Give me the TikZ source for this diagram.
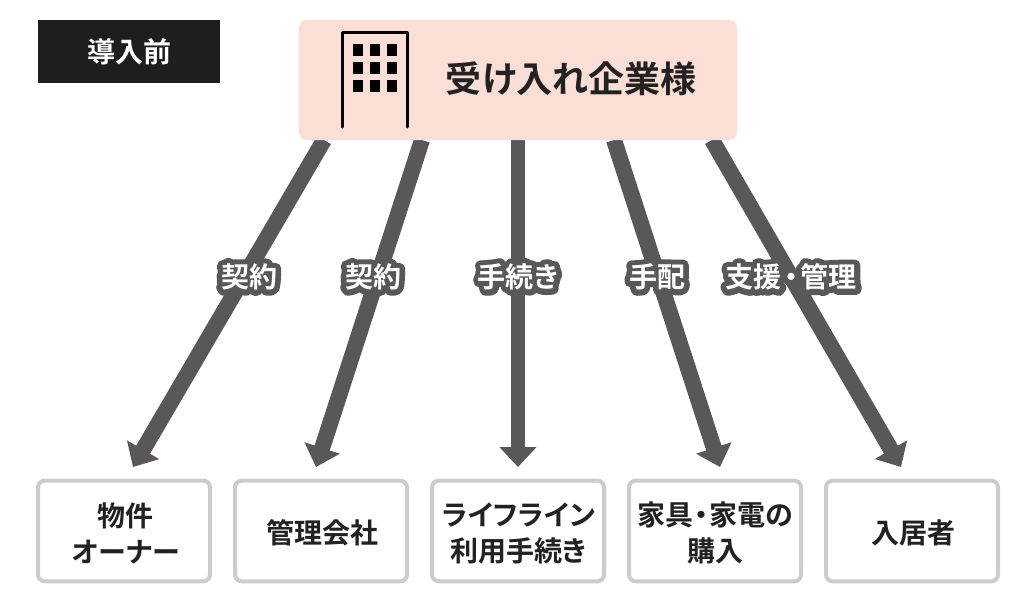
\documentclass[tikz,border=0pt]{standalone}
\usepackage{fontspec}
\usetikzlibrary{arrows.meta}
\newfontfamily\jp{Noto Sans CJK JP Bold}[RawFeature=+palt]
\newfontfamily\jphalo{Noto Sans CJK JP Bold}[RawFeature=+palt,FakeBold=40]
\definecolor{ink}{HTML}{222222}
\definecolor{shaft}{HTML}{595757}
\definecolor{pinkbg}{HTML}{FBDED6}
\definecolor{boxline}{HTML}{CCCCCC}
\definecolor{tagbg}{HTML}{1E1E1E}
\tikzset{x=0.75pt,y=-0.75pt,
 target/.style={draw=boxline,line width=3pt,fill=white,rounded corners=5pt,minimum width=129pt,minimum height=75.5pt,inner sep=0pt},
 targettext/.style={inner sep=0pt,align=center,text=ink,font=\jp\fontsize{21pt}{27pt}\selectfont},
 flow/.style={draw=shaft,line width=11pt,-{Triangle[width=27pt,length=15pt]}},
 diagflow/.style={flow,line width=12pt},
 halo/.style={text=shaft,font=\jphalo\fontsize{21pt}{24pt}\selectfont,inner sep=0pt},
 lbl/.style={text=white,font=\jp\fontsize{21pt}{24pt}\selectfont,inner sep=0pt},
 window/.style={fill=black,draw=none}}
\begin{document}
\begin{tikzpicture}
\useasboundingbox (0,0) rectangle (1036,600);
\fill[white] (0,0) rectangle (1036,600);
% arrows
\coordinate (s1) at (324,140); \coordinate (t1) at (133,467);
\coordinate (s2) at (422,140); \coordinate (t2) at (316,467);
\coordinate (s3) at (518,140); \coordinate (t3) at (518,467);
\coordinate (s4) at (614,140); \coordinate (t4) at (720,467);
\coordinate (s5) at (712,140); \coordinate (t5) at (901,467);
\foreach \i in {1,2,4,5} \draw[diagflow] (s\i) -- (t\i);
\draw[flow] (s3) -- (t3);
% top box
\node[fill=pinkbg,rounded corners=6pt,minimum width=328.5pt,minimum height=90pt,inner sep=0pt] (top) at (518,80) {};
\node[text=ink,font=\jp\fontsize{27pt}{30pt}\selectfont,inner sep=0pt] (title) at (571,78.5) {受け入れ企業様};
\draw[black,line width=2.25pt,line cap=round,line join=round] (342.5,127) -- (342.5,32) -- (407,32) -- (407,127);
\foreach \x in {353,370,387} \foreach \y in {44,62,80}
  \fill[window] (\x,\y) rectangle ++(9.5,12);
% tag
\node[fill=tagbg,minimum width=136.5pt,minimum height=47.25pt,inner sep=0pt] (tag) at (129,51.5) {};
\node[text=white,font=\jp\fontsize{21pt}{24pt}\selectfont,inner sep=0pt] (tagtext) at (129,51.5) {導入前};
% labels
\foreach \n/\x/\t in {a/249/契約,b/373/契約,c/518/手続き,d/657/手配,e/791/支援\kern2pt・\kern2pt管理}{
  \node[halo] (h\n) at (\x,277) {\special{pdf:code 1 j}\t};
  \node[lbl] (l\n) at (\x,277) {\t};
}
% targets
\node[target] (n1) at (124,531) {};
\node[target] (n2) at (321,531) {};
\node[target] (n3) at (518,531) {};
\node[target] (n4) at (715,531) {};
\node[target] (n5) at (912,531) {};
\node[targettext] (x1) at ([xshift=1.2pt,yshift=-1.5pt]n1.center) {物件\\\addfontfeature{LetterSpace=2}オーナー};
\node[targettext] (x2) at ([xshift=1.2pt,yshift=-1.5pt]n2.center) {管理会社};
\node[targettext] (x3) at ([xshift=0.5pt,yshift=-1.5pt]n3.center) {\addfontfeature{LetterSpace=1}ライフライン\\利用手続き};
\node[targettext] (x4) at ([xshift=0.5pt,yshift=-1.5pt]n4.center) {家具\kern0.7pt・\kern0.7pt家電の\\購入};
\node[targettext] (x5) at ([xshift=1.2pt,yshift=-1.5pt]n5.center) {入居者};
\end{tikzpicture}
\end{document}
